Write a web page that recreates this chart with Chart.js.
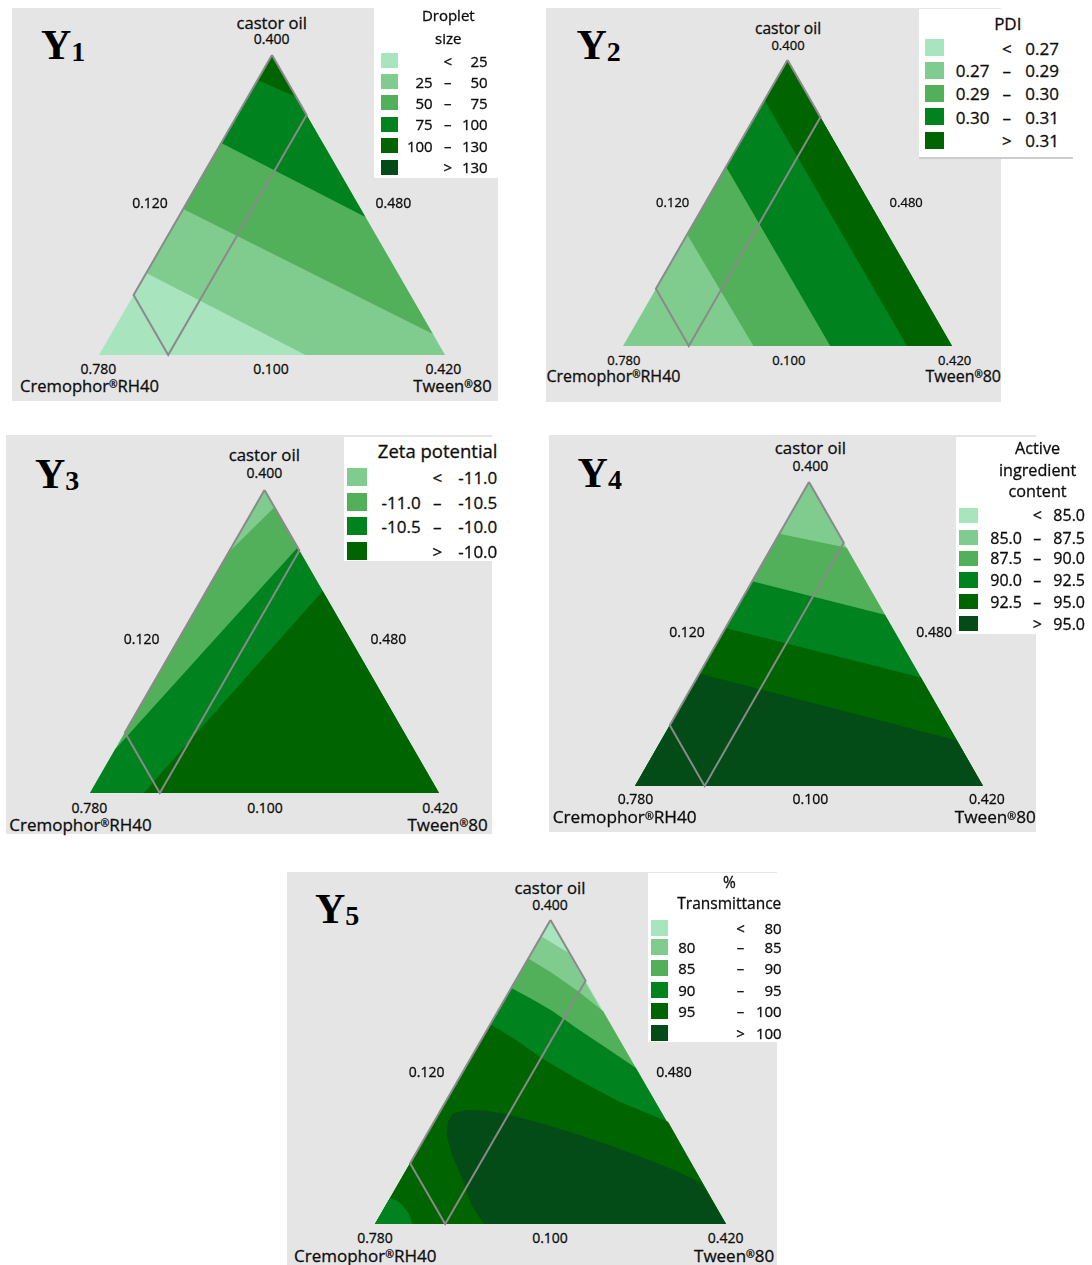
<!DOCTYPE html>
<html>
<head>
<meta charset="utf-8">
<title>Ternary contour plots Y1-Y5</title>
<script src="https://cdn.jsdelivr.net/npm/chart.js@4.4.1/dist/chart.umd.min.js"></script>
<style>
  html, body { margin: 0; padding: 0; background: #ffffff; }
  #page { position: relative; width: 1092px; height: 1265px; overflow: hidden;
          font-family: "Open Sans", "Noto Sans", "DejaVu Sans", sans-serif; color: #0d0d0d; }
  .bg { position: absolute; background: #e5e5e5; }
  .box { position: absolute; background: #ffffff; }
  .t { position: absolute; white-space: nowrap; line-height: 1; -webkit-text-stroke: 0.3px #0d0d0d; }
  .sw { position: absolute; }
  .ylab { position: absolute; white-space: nowrap; line-height: 1; color: #000;
          font-family: "Liberation Serif", "Times New Roman", serif; font-weight: bold; font-size: 42px; }
  .ylab span { font-size: 28px; vertical-align: -2px; }
  .reg { font-size: 0.62em; vertical-align: 0.36em; }
  canvas { position: absolute; }
</style>
</head>
<body>
<div id="page"></div>
<script>
// ---------- data ----------
// Contour colours, light to dark
const bandColors = ['#a8e4bd', '#80cc8f', '#52b05a', '#00821f', '#006400', '#034b17'];

// Components, vertex values and edge (lower-bound) values: left, bottom, right
const componentNames = ['castor oil', 'Cremophor®RH40', 'Tween®80'];
const vertexTicks = ['0.400', '0.780', '0.420'];
const edgeTicks = ['0.120', '0.100', '0.480'];

// Mixture points are [castor oil, Tween 80]; Cremophor RH40 is the remainder
const vertexOil = [0.400, 0.120];
const vertexCrem = [0.100, 0.120];
const vertexTween = [0.100, 0.420];

// Experimental region: Tween 80 <= 0.18 and Cremophor RH40 <= 0.72
const designRegion = [[0.400, 0.120], [0.160, 0.120], [0.100, 0.180], [0.340, 0.180]];

// Y1 droplet size
const sizeTitle = ['Droplet', 'size'];
const sizeBreaks = [25, 50, 75, 100, 130];
const sizeBase = 0;
const sizeRegions = [
  { band: 1, pts: [[0.182, 0.120], [0.100, 0.299], vertexTween, vertexOil] },
  { band: 2, pts: [[0.246, 0.120], [0.121, 0.399], vertexOil] },
  { band: 3, pts: [[0.312, 0.120], [0.238, 0.282], vertexOil] },
  { band: 4, pts: [[0.375, 0.120], [0.358, 0.162], vertexOil] }
];

// Y2 PDI
const pdiTitle = ['PDI'];
const pdiBreaks = [0.27, 0.29, 0.30, 0.31];
const pdiBase = 1;
const pdiRegions = [
  { band: 2, pts: [[0.217, 0.120], [0.100, 0.239], vertexTween, vertexOil] },
  { band: 3, pts: [[0.288, 0.120], [0.100, 0.309], vertexTween, vertexOil] },
  { band: 4, pts: [[0.358, 0.120], [0.100, 0.379], vertexTween, vertexOil] }
];

// Y3 zeta potential
const zetaTitle = ['Zeta potential'];
const zetaBreaks = [-11.0, -10.5, -10.0];
const zetaBase = 1;
const zetaRegions = [
  { band: 2, pts: [[0.338, 0.120], [0.383, 0.137], vertexTween, vertexCrem] },
  { band: 3, pts: [[0.143, 0.120], [0.343, 0.177], vertexTween, vertexCrem] },
  { band: 4, pts: [[0.300, 0.220], vertexTween, [0.100, 0.166]] }
];

// Y4 active ingredient content
const contentTitle = ['Active', 'ingredient', 'content'];
const contentBreaks = [85.0, 87.5, 90.0, 92.5, 95.0];
const contentBase = 1;
const contentRegions = [
  { band: 2, pts: [[0.349, 0.120], [0.335, 0.185], vertexTween, vertexCrem] },
  { band: 3, pts: [[0.302, 0.120], [0.269, 0.251], vertexTween, vertexCrem] },
  { band: 4, pts: [[0.256, 0.120], [0.207, 0.313], vertexTween, vertexCrem] },
  { band: 5, pts: [[0.211, 0.120], [0.145, 0.375], vertexTween, vertexCrem] }
];

// Y5 % transmittance
const transTitle = ['%', 'Transmittance'];
const transBreaks = [80, 85, 90, 95, 100];
const transBase = 0;
const transRegions = [
  { band: 1, pts: [[0.384, 0.120], [0.368, 0.151], vertexTween, vertexCrem] },
  { band: 2, pts: [[0.362, 0.120], [0.348, 0.147], [0.329, 0.180], [0.310, 0.210], vertexTween, vertexCrem] },
  { band: 3, pts: [[0.333, 0.120], [0.322, 0.143], [0.310, 0.167], [0.292, 0.198], [0.272, 0.234], [0.254, 0.266], vertexTween, vertexCrem] },
  { band: 4, pts: [[0.297, 0.120], [0.282, 0.149], [0.264, 0.180], [0.242, 0.223], [0.221, 0.268], [0.201, 0.320], vertexTween, vertexCrem] },
  { band: 3, pts: [vertexCrem, [0.126, 0.120], [0.121, 0.131], [0.111, 0.143], [0.100, 0.152]] },
  { band: 5, pts: [[0.100, 0.213], [0.119, 0.193], [0.145, 0.172], [0.168, 0.152], [0.188, 0.137], [0.201, 0.132],
                   [0.209, 0.132], [0.2125, 0.141], [0.212, 0.158], [0.208, 0.180], [0.200, 0.210], [0.190, 0.244],
                   [0.179, 0.278], [0.167, 0.312], [0.154, 0.347], [0.141, 0.378], vertexTween] }
];

const responses = [
  { sub: '1', title: sizeTitle, breaks: sizeBreaks, digits: 0, first: 0, base: sizeBase, regions: sizeRegions },
  { sub: '2', title: pdiTitle, breaks: pdiBreaks, digits: 2, first: 0, base: pdiBase, regions: pdiRegions },
  { sub: '3', title: zetaTitle, breaks: zetaBreaks, digits: 1, first: 1, base: zetaBase, regions: zetaRegions },
  { sub: '4', title: contentTitle, breaks: contentBreaks, digits: 1, first: 0, base: contentBase, regions: contentRegions },
  { sub: '5', title: transTitle, breaks: transBreaks, digits: 0, first: 0, base: transBase, regions: transRegions }
];

// ---------- page layout ----------
const layout = [
  { bg: [12, 8, 486, 393], tri: [99, 355, 346, 300], ylab: [41, 59.3],
    lab: { oil: [271.7, 22.7], oilTick: [271.7, 39.3], left: [150, 203.3], right: [393.3, 203.3],
           bl: [98.3, 369], bm: [271, 369], br: [443.3, 369], crem: [20, 386], tween: [491.7, 386] },
    nameSize: 16.6, oilSize: 16.6, numSize: 14,
    legend: { box: [374, 8, 124, 170], titleX: 448.3, titleY: [15, 37.7], titleSize: 15, size: 15,
              sw: [381, 16.7, 15], rows: [60.7, 81.7, 102.7, 124, 145.7, 167.3], lo: 432.7, sym: 447.8, hi: 487.7 } },
  { bg: [546, 8, 455, 394], tri: [623.4, 346.3, 329, 286], ylab: [576.5, 59.3],
    lab: { oil: [788, 29], oilTick: [788, 45], left: [672.7, 202.3], right: [906.2, 202.3],
           bl: [623.9, 360], bm: [788.8, 360], br: [954.7, 360], crem: [546.4, 375.7], tween: [1001, 375.7] },
    nameSize: 16, oilSize: 15.6, numSize: 13,
    legend: { box: [919.3, 9.3, 153.3, 147.4], rule: true, titleX: 1007.8, titleY: [23.3], titleSize: 17, size: 17,
              sw: [925, 19, 17], rows: [47.7, 70, 93.3, 116.7, 140], lo: 989.4, sym: 1006.8, hi: 1059 } },
  { bg: [6, 435, 486, 399], tri: [90, 792.7, 349.3, 303.2], ylab: [35, 488.3],
    lab: { oil: [264.3, 455], oilTick: [264.3, 473.3], left: [141.7, 639.3], right: [388.3, 639.3],
           bl: [89.3, 807.7], bm: [265, 807.7], br: [440, 807.7], crem: [9.3, 824.3], tween: [487.7, 824.3] },
    nameSize: 17, oilSize: 16.8, numSize: 14,
    legend: { box: [344, 437.3, 158.7, 123.7], titleX: 437.7, titleY: [450.7], titleSize: 18.5, size: 17,
              sw: [346.7, 20.6, 18], rows: [476.7, 501.7, 526, 550.7], lo: 420.7, sym: 437.3, hi: 497.3 } },
  { bg: [549, 435, 487, 397], tri: [635.4, 785.5, 348.4, 303.5], ylab: [577.6, 487.3],
    lab: { oil: [810.4, 447.7], oilTick: [810.4, 465.7], left: [687, 631.7], right: [934.2, 631.7],
           bl: [635.5, 799.3], bm: [810.4, 799.3], br: [986.8, 799.3], crem: [552.7, 816.7], tween: [1035.9, 816.7] },
    nameSize: 17.2, oilSize: 16.8, numSize: 14,
    legend: { box: [956, 437.3, 130.7, 196.7], titleX: 1037.6, titleY: [448.3, 470, 491], titleSize: 16.2, size: 16,
              sw: [959, 19.3, 15.5], rows: [515.3, 537.5, 558.3, 580, 601.7, 623.7], lo: 1021.9, sym: 1037.3, hi: 1085 } },
  { bg: [287, 872, 490, 393], tri: [375, 1224.6, 350.5, 304.3], ylab: [315, 923.3],
    lab: { oil: [550, 888.3], oilTick: [550, 905], left: [426.7, 1071.7], right: [674, 1071.7],
           bl: [375, 1238.3], bm: [550, 1238.3], br: [725.7, 1238.3], crem: [294, 1255], tween: [774.3, 1255] },
    nameSize: 17, oilSize: 16.7, numSize: 14,
    legend: { box: [647.7, 872.7, 135, 169], titleX: 729.3, titleY: [882.7, 904.3], titleSize: 15.5, size: 15,
              sw: [651, 17.3, 16], rows: [928.3, 947.3, 968.3, 990, 1011, 1032.7], lo: 678.3, loAlign: 'left', sym: 740.5, hi: 781.7 } }
];

// ---------- helpers ----------
const page = document.getElementById('page');
const SQ = Math.sqrt(3) / 2;

// ternary [castor, tween] -> cartesian on a unit-side triangle (Cremophor vertex at origin)
function toXY(p) {
  const a = (p[0] - 0.1) / 0.3;
  const c = (p[1] - 0.12) / 0.3;
  return { x: c + a / 2, y: a * SQ };
}
function closed(pts) {
  const d = pts.map(toXY);
  d.push(toXY(pts[0]));
  return d;
}
function rect(cls, x, y, w, h, color) {
  const d = document.createElement('div');
  d.className = cls;
  d.style.left = x + 'px'; d.style.top = y + 'px';
  d.style.width = w + 'px'; d.style.height = h + 'px';
  if (color) d.style.background = color;
  page.appendChild(d);
  return d;
}
function text(str, x, y, size, align) {
  const d = document.createElement('div');
  d.className = 't';
  const parts = str.split('®');
  d.appendChild(document.createTextNode(parts[0]));
  if (parts.length > 1) {
    const s = document.createElement('span');
    s.className = 'reg';
    s.textContent = '®';
    d.appendChild(s);
    d.appendChild(document.createTextNode(parts[1]));
  }
  d.style.fontSize = size + 'px';
  d.style.left = x + 'px';
  d.style.top = y + 'px';
  const tx = align === 'center' ? '-50%' : (align === 'right' ? '-100%' : '0');
  d.style.transform = 'translate(' + tx + ',-50%)';
  page.appendChild(d);
  return d;
}

function drawLegend(L, S) {
  const b = rect('box', L.box[0], L.box[1], L.box[2], L.box[3]);
  if (L.rule) b.style.borderBottom = '2px solid #cdcdcd';
  S.title.forEach((t, i) => text(t, L.titleX, L.titleY[i], L.titleSize, 'center'));
  const nb = S.breaks.length;
  const fmt = v => v.toFixed(S.digits);
  for (let i = 0; i <= nb; i++) {
    const y = L.rows[i];
    rect('sw', L.sw[0], y - L.sw[2] / 2, L.sw[1], L.sw[2], bandColors[S.first + i]);
    if (i === 0) {
      text('<', L.sym, y, L.size, 'center');
      text(fmt(S.breaks[0]), L.hi, y, L.size, 'right');
    } else if (i === nb) {
      text('>', L.sym, y, L.size, 'center');
      text(fmt(S.breaks[nb - 1]), L.hi, y, L.size, 'right');
    } else {
      text(fmt(S.breaks[i - 1]), L.lo, y, L.size, L.loAlign || 'right');
      text('–', L.sym, y, L.size, 'center');
      text(fmt(S.breaks[i]), L.hi, y, L.size, 'right');
    }
  }
}

function drawPanel(P, S) {
  rect('bg', P.bg[0], P.bg[1], P.bg[2], P.bg[3]);

  // panel label Y with subscript
  const yl = document.createElement('div');
  yl.className = 'ylab';
  yl.style.left = P.ylab[0] + 'px';
  yl.style.top = (P.ylab[1] - 35.2) + 'px';
  yl.appendChild(document.createTextNode('Y'));
  const sb = document.createElement('span');
  sb.textContent = S.sub;
  yl.appendChild(sb);
  page.appendChild(yl);

  // ternary plot
  const [bx, by, w, h] = P.tri;
  const m = 4;
  const cw = Math.round(w) + 2 * m, ch = Math.round(h) + 2 * m;
  const cv = document.createElement('canvas');
  cv.width = cw; cv.height = ch;
  cv.style.width = cw + 'px'; cv.style.height = ch + 'px';
  cv.style.left = Math.round(bx - m) + 'px';
  cv.style.top = Math.round(by - h - m) + 'px';
  page.appendChild(cv);

  const layers = [{ band: S.base, pts: [vertexOil, vertexCrem, vertexTween] }].concat(S.regions);
  const datasets = layers.map((r, i) => ({
    data: closed(r.pts), showLine: true, fill: 'shape',
    backgroundColor: bandColors[r.band], borderColor: 'rgba(0,0,0,0)', borderWidth: 0,
    pointRadius: 0, pointHoverRadius: 0, tension: 0, clip: false, order: -i
  }));
  datasets.push({
    data: closed(designRegion), showLine: true, fill: false,
    borderColor: '#8a8a8a', borderWidth: 2, borderJoinStyle: 'miter',
    pointRadius: 0, pointHoverRadius: 0, tension: 0, clip: false, order: -1000
  });

  new Chart(cv, {
    type: 'scatter',
    data: { datasets },
    options: {
      responsive: false, animation: false, devicePixelRatio: 1, events: [],
      layout: { padding: m },
      plugins: { legend: { display: false }, tooltip: { enabled: false } },
      scales: {
        x: { type: 'linear', min: 0, max: 1, display: false },
        y: { type: 'linear', min: 0, max: SQ, display: false }
      }
    }
  });

  // vertex and edge labels
  const L = P.lab;
  text(componentNames[0], L.oil[0], L.oil[1], P.oilSize, 'center');
  text(vertexTicks[0], L.oilTick[0], L.oilTick[1], P.numSize, 'center');
  text(edgeTicks[0], L.left[0], L.left[1], P.numSize, 'center');
  text(edgeTicks[2], L.right[0], L.right[1], P.numSize, 'center');
  text(vertexTicks[1], L.bl[0], L.bl[1], P.numSize, 'center');
  text(edgeTicks[1], L.bm[0], L.bm[1], P.numSize, 'center');
  text(vertexTicks[2], L.br[0], L.br[1], P.numSize, 'center');
  text(componentNames[1], L.crem[0], L.crem[1], P.nameSize, 'left');
  text(componentNames[2], L.tween[0], L.tween[1], P.nameSize, 'right');

  drawLegend(P.legend, S);
}

layout.forEach((P, i) => drawPanel(P, responses[i]));
</script>
</body>
</html>
